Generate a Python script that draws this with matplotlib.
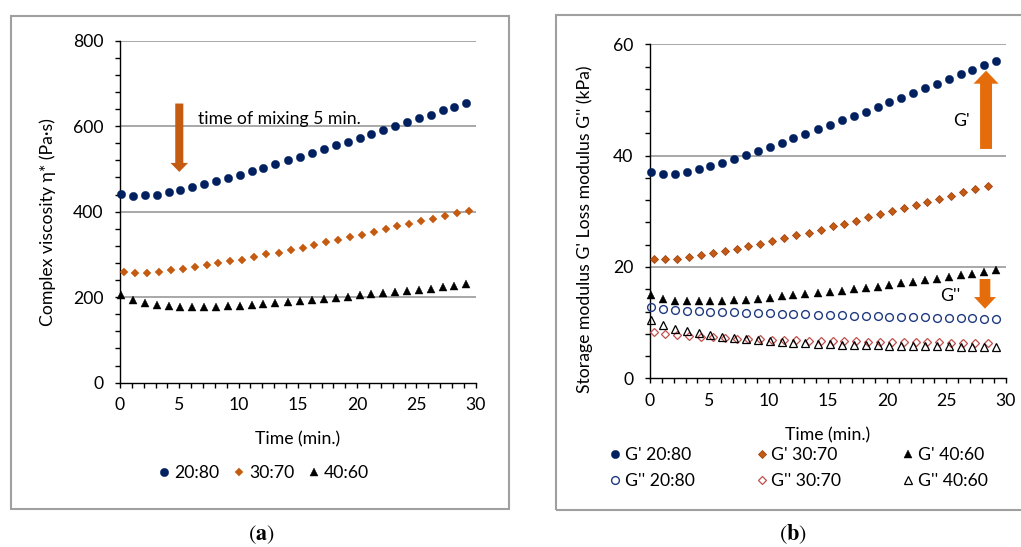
import matplotlib
matplotlib.use("Agg")
import matplotlib.pyplot as plt
from matplotlib.patches import Rectangle, FancyArrowPatch
from matplotlib.ticker import MultipleLocator

# ---------------- data ----------------
time_a = [0.1, 1.1, 2.1, 3.1, 4.1, 5.1, 6.1, 7.1, 8.1, 9.1, 10.1, 11.1, 12.1, 13.1, 14.2,
          15.2, 16.2, 17.2, 18.2, 19.2, 20.2, 21.2, 22.2, 23.2, 24.2, 25.2, 26.2, 27.2, 28.2, 29.2]
time_b = [0.3, 1.3, 2.3, 3.3, 4.3, 5.3, 6.3, 7.3, 8.3, 9.3, 10.3, 11.3, 12.3, 13.4, 14.4,
          15.4, 16.4, 17.4, 18.4, 19.4, 20.4, 21.4, 22.4, 23.4, 24.4, 25.4, 26.4, 27.4, 28.4, 29.4]
time_c = [0.3, 1.3, 2.3, 3.3, 4.3, 5.3, 6.3, 7.3, 8.3, 9.3, 10.3, 11.3, 12.3, 13.4, 14.4,
          15.4, 16.4, 17.4, 18.4, 19.4, 20.4, 21.4, 22.4, 23.4, 24.4, 25.4, 26.4, 27.4, 28.5]

visc_2080 = [442, 437, 438, 440, 445, 450, 458, 465, 471, 478, 486, 495, 503, 512, 520,
             529, 538, 546, 556, 564, 573, 581, 591, 600, 610, 619, 627, 637, 645, 655]
visc_3070 = [260, 257, 257, 260, 263, 265, 270, 275, 279, 284, 288, 294, 300, 304, 310,
             316, 322, 328, 334, 340, 346, 352, 360, 366, 372, 378, 383, 391, 396, 402]
visc_4060 = [205, 194, 187, 182, 180, 178, 177, 177, 178, 179, 180, 182, 184, 186, 188,
             191, 193, 196, 198, 201, 204, 207, 210, 212, 215, 218, 220, 223, 226, 230]

gp_2080 = [37.0, 36.65, 36.77, 37.07, 37.55, 38.14, 38.68, 39.4, 40.12, 40.84, 41.56, 42.28,
           43.11, 43.95, 44.73, 45.51, 46.35, 47.13, 47.9, 48.74, 49.58, 50.42, 51.26, 52.1,
           52.87, 53.71, 54.61, 55.39, 56.23, 56.95]
gp_3070 = [21.44, 21.35, 21.44, 21.75, 22.08, 22.43, 22.85, 23.28, 23.68, 24.14, 24.65, 25.12,
           25.67, 26.15, 26.65, 27.27, 27.77, 28.34, 28.9, 29.47, 30.03, 30.53, 31.1, 31.66,
           32.23, 32.79, 33.42, 33.98, 34.46]
gp_4060 = [14.95, 14.2, 13.9, 13.8, 13.8, 13.85, 13.9, 14.0, 14.15, 14.3, 14.48, 14.7, 14.88,
           15.08, 15.27, 15.5, 15.75, 15.99, 16.17, 16.41, 16.71, 17.07, 17.37, 17.66, 17.9,
           18.2, 18.5, 18.8, 19.1, 19.46]
gpp_2080 = [12.75, 12.4, 12.25, 12.15, 12.09, 11.98, 11.92, 11.85, 11.78, 11.72, 11.66, 11.6,
            11.54, 11.48, 11.42, 11.37, 11.3, 11.25, 11.2, 11.15, 11.1, 11.05, 11.0, 10.95,
            10.9, 10.85, 10.8, 10.75, 10.7, 10.63]
gpp_3070 = [8.25, 7.93, 7.72, 7.57, 7.45, 7.33, 7.25, 7.13, 7.06, 7.0, 6.94, 6.89, 6.83, 6.77,
            6.73, 6.68, 6.66, 6.63, 6.6, 6.57, 6.55, 6.52, 6.5, 6.47, 6.45, 6.42, 6.4, 6.38, 6.36]
gpp_4060 = [10.4, 9.6, 8.92, 8.47, 8.1, 7.72, 7.48, 7.25, 7.03, 6.86, 6.7, 6.58, 6.43, 6.32,
            6.22, 6.12, 6.06, 6.0, 5.95, 5.9, 5.86, 5.83, 5.8, 5.77, 5.74, 5.72, 5.7, 5.68, 5.67, 5.65]

labels_a = ["20:80", "30:70", "40:60"]
labels_b = ["G' 20:80", "G'' 20:80", "G' 30:70", "G'' 30:70", "G' 40:60", "G'' 40:60"]

# ---------------- style ----------------
FONT = ['Lato', 'DejaVu Sans']
plt.rcParams['font.family'] = FONT
plt.rcParams['mathtext.fontset'] = 'stix'
FS = 12.7
NAVY = '#002060'
ORANGE = '#C55A11'
ORANGE2 = '#E46C0A'
RED = '#C0504D'
OPENBLUE = '#1F3A80'
GRID = '#9A9A9A'
FRAME = '#A0A0A0'

W, H = 1021, 547
fig = plt.figure(figsize=(W / 100, H / 100), dpi=100)


def px_rect(x0, y0, x1, y1):
    return [x0 / W, 1 - y1 / H, (x1 - x0) / W, (y1 - y0) / H]


# outer frames
fig.patches.append(Rectangle((10.7 / W, 1 - 508.7 / H), (509.3 - 10.7) / W, (508.7 - 15.7) / H,
                             transform=fig.transFigure, fill=False, ec=FRAME, lw=1.5))
fig.patches.append(Rectangle((555.7 / W, 1 - 510 / H), (1030 - 555.7) / W, (510 - 14.7) / H,
                             transform=fig.transFigure, fill=False, ec=FRAME, lw=1.5))


def style_axes(ax, ymax, ymaj, ymin):
    ax.set_xlim(0, 30)
    ax.set_ylim(0, ymax)
    ax.xaxis.set_major_locator(MultipleLocator(5))
    ax.xaxis.set_minor_locator(MultipleLocator(1))
    ax.yaxis.set_major_locator(MultipleLocator(ymaj))
    ax.yaxis.set_minor_locator(MultipleLocator(ymin))
    for s in ['top', 'right']:
        ax.spines[s].set_visible(False)
    for s in ['left', 'bottom']:
        ax.spines[s].set_linewidth(1.0)
        ax.spines[s].set_color('black')
    ax.tick_params(axis='both', which='both', direction='out', length=3.5, width=1.0,
                   color='black')
    ax.tick_params(axis='y', which='major', pad=8.5, labelsize=FS)
    ax.tick_params(axis='x', which='major', pad=7, labelsize=FS)
    for v in range(ymaj, ymax + 1, ymaj):
        ax.axhline(v, color=GRID, lw=1.2, zorder=0)
    ax.set_facecolor('none')


# ---------------- panel (a) ----------------
axa = fig.add_axes(px_rect(120, 40.7, 475.7, 382.7))
style_axes(axa, 800, 200, 40)
axa.plot(time_a, visc_2080, ls='none', marker='o', ms=6.0, mfc=NAVY, mec=NAVY, mew=0.3,
         label=labels_a[0], clip_on=False, zorder=3)
axa.plot(time_b, visc_3070, ls='none', marker='D', ms=3.8, mfc=ORANGE, mec=ORANGE, mew=0.3,
         label=labels_a[1], clip_on=False, zorder=3)
axa.plot(time_a, visc_4060, ls='none', marker='^', ms=6.0, mfc='black', mec='black', mew=0.3,
         label=labels_a[2], clip_on=False, zorder=3)
axa.set_xlabel('Time (min.)', fontsize=FS, va='center')
axa.xaxis.set_label_coords(0.5, -0.165)
axa.set_ylabel('Complex viscosity η* (Pa·s)', fontsize=FS, va='center', ha='center')
axa.yaxis.set_label_coords(-0.203, 0.471)
axa.add_patch(FancyArrowPatch((5.0, 653), (5.0, 493), shrinkA=0, shrinkB=0, mutation_scale=1,
                              arrowstyle='simple,head_length=6.5,head_width=12.7,tail_width=5.8',
                              fc=ORANGE, ec='none', zorder=4))
axa.text(6.55, 616, 'time of mixing 5 min.', fontsize=FS, va='center', ha='left', zorder=5)
axa.legend(loc='center', bbox_to_anchor=(264.4 / W, 1 - 473.3 / H), bbox_transform=fig.transFigure,
           ncol=3, frameon=False, fontsize=FS, handlelength=0.5, handletextpad=0.3,
           columnspacing=0.9, borderpad=0, borderaxespad=0)

# ---------------- panel (b) ----------------
axb = fig.add_axes(px_rect(650, 44.3, 1005.6, 378.3))
style_axes(axb, 60, 20, 4)
h1, = axb.plot(time_a, gp_2080, ls='none', marker='o', ms=6.0, mfc=NAVY, mec=NAVY, mew=0.3,
               label=labels_b[0], clip_on=False, zorder=3)
h3, = axb.plot(time_c, gp_3070, ls='none', marker='D', ms=4.1, mfc=ORANGE, mec='#A0461A', mew=0.6,
               label=labels_b[2], clip_on=False, zorder=3)
h5, = axb.plot(time_a, gp_4060, ls='none', marker='^', ms=6.0, mfc='black', mec='black', mew=0.3,
               label=labels_b[4], clip_on=False, zorder=3)
h2, = axb.plot(time_a, gpp_2080, ls='none', marker='o', ms=5.6, mfc='none', mec=OPENBLUE, mew=1.0,
               label=labels_b[1], clip_on=False, zorder=3)
h4, = axb.plot(time_c, gpp_3070, ls='none', marker='D', ms=3.8, mfc='none', mec=RED, mew=0.9,
               label=labels_b[3], clip_on=False, zorder=3)
h6, = axb.plot(time_a, gpp_4060, ls='none', marker='^', ms=5.8, mfc='none', mec='black', mew=0.9,
               label=labels_b[5], clip_on=False, zorder=3)
axb.set_xlabel('Time (min.)', fontsize=FS, va='center')
axb.xaxis.set_label_coords(0.5, -0.172)
axb.set_ylabel("Storage modulus G' Loss modulus G'' (kPa)", fontsize=FS, va='center', ha='center')
axb.yaxis.set_label_coords(-0.183, 0.447)
axb.add_patch(FancyArrowPatch((28.35, 41.2), (28.35, 55.27), shrinkA=0, shrinkB=0, mutation_scale=1,
                              arrowstyle='simple,head_length=9.4,head_width=18,tail_width=8.6',
                              fc=ORANGE2, ec='none', zorder=4))
axb.add_patch(FancyArrowPatch((28.26, 17.84), (28.26, 12.5), shrinkA=0, shrinkB=0, mutation_scale=1,
                              arrowstyle='simple,head_length=8.4,head_width=15.8,tail_width=7.7',
                              fc=ORANGE2, ec='none', zorder=4))
axb.text(26.3, 46.3, "G'", fontsize=FS, ha='center', va='center', zorder=5)
axb.text(25.3, 14.8, "G''", fontsize=FS, ha='center', va='center', zorder=5)
axb.legend(handles=[h1, h2, h3, h4, h5, h6], loc='center',
           bbox_to_anchor=(799.3 / W, 1 - 468.3 / H), bbox_transform=fig.transFigure,
           ncol=3, frameon=False, fontsize=FS, handlelength=0.5, handletextpad=0.3,
           columnspacing=3.55, labelspacing=0.58, borderpad=0, borderaxespad=0)

# panel letters
fig.text(261.7 / W, 1 - 535 / H, r'$\mathrm{(}\mathbf{a}\mathrm{)}$', fontsize=16,
         ha='center', va='center')
fig.text(793 / W, 1 - 534 / H, r'$\mathrm{(}\mathbf{b}\mathrm{)}$', fontsize=16,
         ha='center', va='center')

fig.savefig('out.png', dpi=100)
